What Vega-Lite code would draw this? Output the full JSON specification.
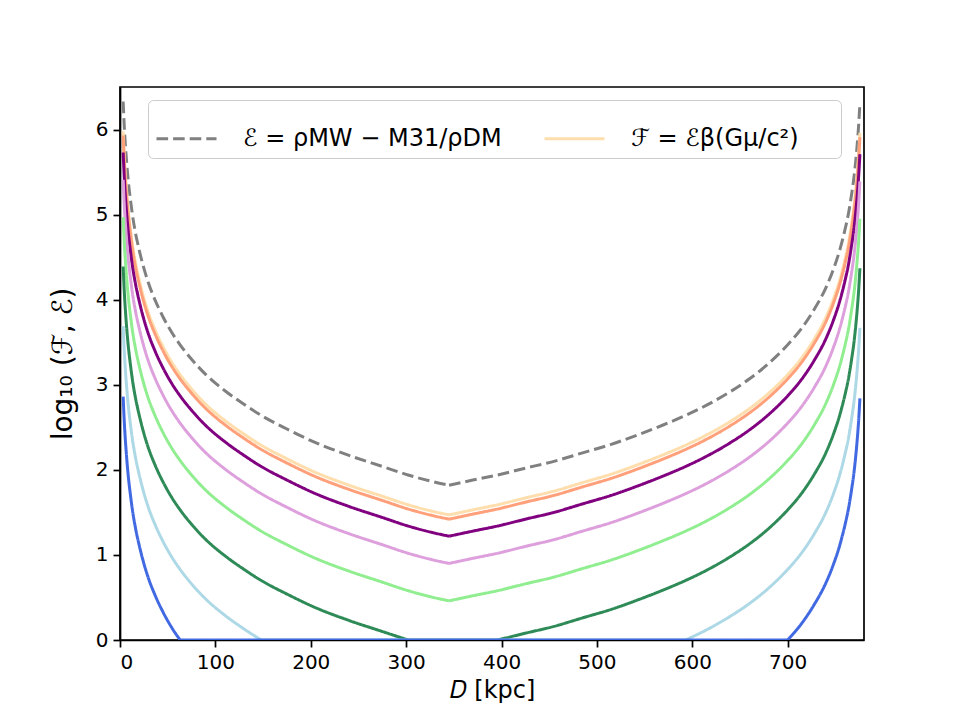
{
"$schema": "https://vega.github.io/schema/vega-lite/v6.json",
"width": 744, "height": 553,
"autosize": {"type": "none"},
"padding": {"left": 120, "top": 87, "right": 96, "bottom": 80},
"background": "white",
"config": {
  "view": {"stroke": "black", "strokeWidth": 1.7},
  "font": "DejaVu Sans",
  "axis": {"grid": false, "domainColor": "black", "domainWidth": 1.7, "tickColor": "black", "tickWidth": 1.7, "tickSize": 7, "labelColor": "black", "labelFont": "DejaVu Sans", "labelFontSize": 20, "labelPadding": 5, "titleFont": "DejaVu Sans", "titleFontWeight": "normal", "titleColor": "black"}
},
"data": {"values": [
{"s":"a","D":3.33,"v":6.33},{"s":"a","D":4,"v":6.15},{"s":"a","D":5,"v":5.93},{"s":"a","D":6,"v":5.76},{"s":"a","D":7.5,"v":5.54},{"s":"a","D":9,"v":5.36},{"s":"a","D":11,"v":5.17},{"s":"a","D":13,"v":5.00},{"s":"a","D":16,"v":4.80},{"s":"a","D":20,"v":4.59},{"s":"a","D":25,"v":4.37},{"s":"a","D":30,"v":4.19},{"s":"a","D":37,"v":3.99},{"s":"a","D":45,"v":3.80},{"s":"a","D":54,"v":3.62},{"s":"a","D":63,"v":3.47},{"s":"a","D":75,"v":3.30},{"s":"a","D":90,"v":3.12},{"s":"a","D":110,"v":2.93},{"s":"a","D":130,"v":2.77},{"s":"a","D":148,"v":2.64},{"s":"a","D":175,"v":2.48},{"s":"a","D":205,"v":2.32},{"s":"a","D":240,"v":2.17},{"s":"a","D":275,"v":2.04},{"s":"a","D":302,"v":1.94},{"s":"a","D":325,"v":1.87},{"s":"a","D":345,"v":1.82},
{"s":"a","p":2,"D":345,"v":1.82},{"s":"a","p":2,"D":370,"v":1.88},{"s":"a","p":2,"D":396,"v":1.94},{"s":"a","p":2,"D":425,"v":2.02},{"s":"a","p":2,"D":455,"v":2.10},{"s":"a","p":2,"D":485,"v":2.20},{"s":"a","p":2,"D":515,"v":2.30},{"s":"a","p":2,"D":545,"v":2.42},{"s":"a","p":2,"D":570,"v":2.53},{"s":"a","p":2,"D":593,"v":2.64},{"s":"a","p":2,"D":615,"v":2.76},{"s":"a","p":2,"D":640,"v":2.92},{"s":"a","p":2,"D":660,"v":3.07},{"s":"a","p":2,"D":680,"v":3.25},{"s":"a","p":2,"D":700,"v":3.47},{"s":"a","p":2,"D":715,"v":3.67},{"s":"a","p":2,"D":728,"v":3.89},{"s":"a","p":2,"D":740,"v":4.14},{"s":"a","p":2,"D":748,"v":4.36},{"s":"a","p":2,"D":755,"v":4.60},{"s":"a","p":2,"D":760,"v":4.82},{"s":"a","p":2,"D":764,"v":5.03},{"s":"a","p":2,"D":767,"v":5.24},{"s":"a","p":2,"D":769.5,"v":5.44},{"s":"a","p":2,"D":771.5,"v":5.65},{"s":"a","p":2,"D":773,"v":5.84},{"s":"a","p":2,"D":774.5,"v":6.07},{"s":"a","p":2,"D":775.7,"v":6.31},
{"s":"b","D":3.33,"v":5.98},{"s":"b","D":4,"v":5.80},{"s":"b","D":5,"v":5.58},{"s":"b","D":6,"v":5.41},{"s":"b","D":7.5,"v":5.19},{"s":"b","D":9,"v":5.01},{"s":"b","D":11,"v":4.82},{"s":"b","D":13,"v":4.65},{"s":"b","D":16,"v":4.45},{"s":"b","D":20,"v":4.24},{"s":"b","D":25,"v":4.02},{"s":"b","D":30,"v":3.84},{"s":"b","D":37,"v":3.64},{"s":"b","D":45,"v":3.45},{"s":"b","D":54,"v":3.27},{"s":"b","D":63,"v":3.12},{"s":"b","D":75,"v":2.95},{"s":"b","D":90,"v":2.77},{"s":"b","D":110,"v":2.58},{"s":"b","D":130,"v":2.42},{"s":"b","D":148,"v":2.29},{"s":"b","D":175,"v":2.13},{"s":"b","D":205,"v":1.97},{"s":"b","D":240,"v":1.82},{"s":"b","D":275,"v":1.69},{"s":"b","D":302,"v":1.59},{"s":"b","D":325,"v":1.52},{"s":"b","D":345,"v":1.47},
{"s":"b","p":2,"D":345,"v":1.47},{"s":"b","p":2,"D":370,"v":1.53},{"s":"b","p":2,"D":396,"v":1.59},{"s":"b","p":2,"D":425,"v":1.67},{"s":"b","p":2,"D":455,"v":1.75},{"s":"b","p":2,"D":485,"v":1.85},{"s":"b","p":2,"D":515,"v":1.95},{"s":"b","p":2,"D":545,"v":2.07},{"s":"b","p":2,"D":570,"v":2.18},{"s":"b","p":2,"D":593,"v":2.29},{"s":"b","p":2,"D":615,"v":2.41},{"s":"b","p":2,"D":640,"v":2.57},{"s":"b","p":2,"D":660,"v":2.72},{"s":"b","p":2,"D":680,"v":2.90},{"s":"b","p":2,"D":700,"v":3.12},{"s":"b","p":2,"D":715,"v":3.32},{"s":"b","p":2,"D":728,"v":3.54},{"s":"b","p":2,"D":740,"v":3.79},{"s":"b","p":2,"D":748,"v":4.01},{"s":"b","p":2,"D":755,"v":4.25},{"s":"b","p":2,"D":760,"v":4.47},{"s":"b","p":2,"D":764,"v":4.68},{"s":"b","p":2,"D":767,"v":4.89},{"s":"b","p":2,"D":769.5,"v":5.09},{"s":"b","p":2,"D":771.5,"v":5.30},{"s":"b","p":2,"D":773,"v":5.49},{"s":"b","p":2,"D":774.5,"v":5.72},{"s":"b","p":2,"D":775.7,"v":5.96},
{"s":"c","D":3.33,"v":5.93},{"s":"c","D":4,"v":5.75},{"s":"c","D":5,"v":5.53},{"s":"c","D":6,"v":5.36},{"s":"c","D":7.5,"v":5.14},{"s":"c","D":9,"v":4.96},{"s":"c","D":11,"v":4.77},{"s":"c","D":13,"v":4.60},{"s":"c","D":16,"v":4.40},{"s":"c","D":20,"v":4.19},{"s":"c","D":25,"v":3.97},{"s":"c","D":30,"v":3.79},{"s":"c","D":37,"v":3.59},{"s":"c","D":45,"v":3.40},{"s":"c","D":54,"v":3.22},{"s":"c","D":63,"v":3.07},{"s":"c","D":75,"v":2.90},{"s":"c","D":90,"v":2.72},{"s":"c","D":110,"v":2.53},{"s":"c","D":130,"v":2.37},{"s":"c","D":148,"v":2.24},{"s":"c","D":175,"v":2.08},{"s":"c","D":205,"v":1.92},{"s":"c","D":240,"v":1.77},{"s":"c","D":275,"v":1.64},{"s":"c","D":302,"v":1.54},{"s":"c","D":325,"v":1.47},{"s":"c","D":345,"v":1.42},
{"s":"c","p":2,"D":345,"v":1.42},{"s":"c","p":2,"D":370,"v":1.48},{"s":"c","p":2,"D":396,"v":1.54},{"s":"c","p":2,"D":425,"v":1.62},{"s":"c","p":2,"D":455,"v":1.70},{"s":"c","p":2,"D":485,"v":1.80},{"s":"c","p":2,"D":515,"v":1.90},{"s":"c","p":2,"D":545,"v":2.02},{"s":"c","p":2,"D":570,"v":2.13},{"s":"c","p":2,"D":593,"v":2.24},{"s":"c","p":2,"D":615,"v":2.36},{"s":"c","p":2,"D":640,"v":2.52},{"s":"c","p":2,"D":660,"v":2.67},{"s":"c","p":2,"D":680,"v":2.85},{"s":"c","p":2,"D":700,"v":3.07},{"s":"c","p":2,"D":715,"v":3.27},{"s":"c","p":2,"D":728,"v":3.49},{"s":"c","p":2,"D":740,"v":3.74},{"s":"c","p":2,"D":748,"v":3.96},{"s":"c","p":2,"D":755,"v":4.20},{"s":"c","p":2,"D":760,"v":4.42},{"s":"c","p":2,"D":764,"v":4.63},{"s":"c","p":2,"D":767,"v":4.84},{"s":"c","p":2,"D":769.5,"v":5.04},{"s":"c","p":2,"D":771.5,"v":5.25},{"s":"c","p":2,"D":773,"v":5.44},{"s":"c","p":2,"D":774.5,"v":5.67},{"s":"c","p":2,"D":775.7,"v":5.91},
{"s":"d","D":3.33,"v":5.73},{"s":"d","D":4,"v":5.55},{"s":"d","D":5,"v":5.33},{"s":"d","D":6,"v":5.16},{"s":"d","D":7.5,"v":4.94},{"s":"d","D":9,"v":4.76},{"s":"d","D":11,"v":4.57},{"s":"d","D":13,"v":4.40},{"s":"d","D":16,"v":4.20},{"s":"d","D":20,"v":3.99},{"s":"d","D":25,"v":3.77},{"s":"d","D":30,"v":3.59},{"s":"d","D":37,"v":3.39},{"s":"d","D":45,"v":3.20},{"s":"d","D":54,"v":3.02},{"s":"d","D":63,"v":2.87},{"s":"d","D":75,"v":2.70},{"s":"d","D":90,"v":2.52},{"s":"d","D":110,"v":2.33},{"s":"d","D":130,"v":2.17},{"s":"d","D":148,"v":2.04},{"s":"d","D":175,"v":1.88},{"s":"d","D":205,"v":1.72},{"s":"d","D":240,"v":1.57},{"s":"d","D":275,"v":1.44},{"s":"d","D":302,"v":1.34},{"s":"d","D":325,"v":1.27},{"s":"d","D":345,"v":1.22},
{"s":"d","p":2,"D":345,"v":1.22},{"s":"d","p":2,"D":370,"v":1.28},{"s":"d","p":2,"D":396,"v":1.34},{"s":"d","p":2,"D":425,"v":1.42},{"s":"d","p":2,"D":455,"v":1.50},{"s":"d","p":2,"D":485,"v":1.60},{"s":"d","p":2,"D":515,"v":1.70},{"s":"d","p":2,"D":545,"v":1.82},{"s":"d","p":2,"D":570,"v":1.93},{"s":"d","p":2,"D":593,"v":2.04},{"s":"d","p":2,"D":615,"v":2.16},{"s":"d","p":2,"D":640,"v":2.32},{"s":"d","p":2,"D":660,"v":2.47},{"s":"d","p":2,"D":680,"v":2.65},{"s":"d","p":2,"D":700,"v":2.87},{"s":"d","p":2,"D":715,"v":3.07},{"s":"d","p":2,"D":728,"v":3.29},{"s":"d","p":2,"D":740,"v":3.54},{"s":"d","p":2,"D":748,"v":3.76},{"s":"d","p":2,"D":755,"v":4.00},{"s":"d","p":2,"D":760,"v":4.22},{"s":"d","p":2,"D":764,"v":4.43},{"s":"d","p":2,"D":767,"v":4.64},{"s":"d","p":2,"D":769.5,"v":4.84},{"s":"d","p":2,"D":771.5,"v":5.05},{"s":"d","p":2,"D":773,"v":5.24},{"s":"d","p":2,"D":774.5,"v":5.47},{"s":"d","p":2,"D":775.7,"v":5.71},
{"s":"e","D":3.33,"v":5.41},{"s":"e","D":4,"v":5.23},{"s":"e","D":5,"v":5.01},{"s":"e","D":6,"v":4.84},{"s":"e","D":7.5,"v":4.62},{"s":"e","D":9,"v":4.44},{"s":"e","D":11,"v":4.25},{"s":"e","D":13,"v":4.08},{"s":"e","D":16,"v":3.88},{"s":"e","D":20,"v":3.67},{"s":"e","D":25,"v":3.45},{"s":"e","D":30,"v":3.27},{"s":"e","D":37,"v":3.07},{"s":"e","D":45,"v":2.88},{"s":"e","D":54,"v":2.70},{"s":"e","D":63,"v":2.55},{"s":"e","D":75,"v":2.38},{"s":"e","D":90,"v":2.20},{"s":"e","D":110,"v":2.01},{"s":"e","D":130,"v":1.85},{"s":"e","D":148,"v":1.72},{"s":"e","D":175,"v":1.56},{"s":"e","D":205,"v":1.40},{"s":"e","D":240,"v":1.25},{"s":"e","D":275,"v":1.12},{"s":"e","D":302,"v":1.02},{"s":"e","D":325,"v":0.95},{"s":"e","D":345,"v":0.90},
{"s":"e","p":2,"D":345,"v":0.90},{"s":"e","p":2,"D":370,"v":0.96},{"s":"e","p":2,"D":396,"v":1.02},{"s":"e","p":2,"D":425,"v":1.10},{"s":"e","p":2,"D":455,"v":1.18},{"s":"e","p":2,"D":485,"v":1.28},{"s":"e","p":2,"D":515,"v":1.38},{"s":"e","p":2,"D":545,"v":1.50},{"s":"e","p":2,"D":570,"v":1.61},{"s":"e","p":2,"D":593,"v":1.72},{"s":"e","p":2,"D":615,"v":1.84},{"s":"e","p":2,"D":640,"v":2.00},{"s":"e","p":2,"D":660,"v":2.15},{"s":"e","p":2,"D":680,"v":2.33},{"s":"e","p":2,"D":700,"v":2.55},{"s":"e","p":2,"D":715,"v":2.75},{"s":"e","p":2,"D":728,"v":2.97},{"s":"e","p":2,"D":740,"v":3.22},{"s":"e","p":2,"D":748,"v":3.44},{"s":"e","p":2,"D":755,"v":3.68},{"s":"e","p":2,"D":760,"v":3.90},{"s":"e","p":2,"D":764,"v":4.11},{"s":"e","p":2,"D":767,"v":4.32},{"s":"e","p":2,"D":769.5,"v":4.52},{"s":"e","p":2,"D":771.5,"v":4.73},{"s":"e","p":2,"D":773,"v":4.92},{"s":"e","p":2,"D":774.5,"v":5.15},{"s":"e","p":2,"D":775.7,"v":5.39},
{"s":"f","D":3.33,"v":4.97},{"s":"f","D":4,"v":4.79},{"s":"f","D":5,"v":4.57},{"s":"f","D":6,"v":4.40},{"s":"f","D":7.5,"v":4.18},{"s":"f","D":9,"v":4.00},{"s":"f","D":11,"v":3.81},{"s":"f","D":13,"v":3.64},{"s":"f","D":16,"v":3.44},{"s":"f","D":20,"v":3.23},{"s":"f","D":25,"v":3.01},{"s":"f","D":30,"v":2.83},{"s":"f","D":37,"v":2.63},{"s":"f","D":45,"v":2.44},{"s":"f","D":54,"v":2.26},{"s":"f","D":63,"v":2.11},{"s":"f","D":75,"v":1.94},{"s":"f","D":90,"v":1.76},{"s":"f","D":110,"v":1.57},{"s":"f","D":130,"v":1.41},{"s":"f","D":148,"v":1.28},{"s":"f","D":175,"v":1.12},{"s":"f","D":205,"v":0.96},{"s":"f","D":240,"v":0.81},{"s":"f","D":275,"v":0.68},{"s":"f","D":302,"v":0.58},{"s":"f","D":325,"v":0.51},{"s":"f","D":345,"v":0.46},
{"s":"f","p":2,"D":345,"v":0.46},{"s":"f","p":2,"D":370,"v":0.52},{"s":"f","p":2,"D":396,"v":0.58},{"s":"f","p":2,"D":425,"v":0.66},{"s":"f","p":2,"D":455,"v":0.74},{"s":"f","p":2,"D":485,"v":0.84},{"s":"f","p":2,"D":515,"v":0.94},{"s":"f","p":2,"D":545,"v":1.06},{"s":"f","p":2,"D":570,"v":1.17},{"s":"f","p":2,"D":593,"v":1.28},{"s":"f","p":2,"D":615,"v":1.40},{"s":"f","p":2,"D":640,"v":1.56},{"s":"f","p":2,"D":660,"v":1.71},{"s":"f","p":2,"D":680,"v":1.89},{"s":"f","p":2,"D":700,"v":2.11},{"s":"f","p":2,"D":715,"v":2.31},{"s":"f","p":2,"D":728,"v":2.53},{"s":"f","p":2,"D":740,"v":2.78},{"s":"f","p":2,"D":748,"v":3.00},{"s":"f","p":2,"D":755,"v":3.24},{"s":"f","p":2,"D":760,"v":3.46},{"s":"f","p":2,"D":764,"v":3.67},{"s":"f","p":2,"D":767,"v":3.88},{"s":"f","p":2,"D":769.5,"v":4.08},{"s":"f","p":2,"D":771.5,"v":4.29},{"s":"f","p":2,"D":773,"v":4.48},{"s":"f","p":2,"D":774.5,"v":4.71},{"s":"f","p":2,"D":775.7,"v":4.95},
{"s":"g","D":3.33,"v":4.39},{"s":"g","D":4,"v":4.21},{"s":"g","D":5,"v":3.99},{"s":"g","D":6,"v":3.82},{"s":"g","D":7.5,"v":3.60},{"s":"g","D":9,"v":3.42},{"s":"g","D":11,"v":3.23},{"s":"g","D":13,"v":3.06},{"s":"g","D":16,"v":2.86},{"s":"g","D":20,"v":2.65},{"s":"g","D":25,"v":2.43},{"s":"g","D":30,"v":2.25},{"s":"g","D":37,"v":2.05},{"s":"g","D":45,"v":1.86},{"s":"g","D":54,"v":1.68},{"s":"g","D":63,"v":1.53},{"s":"g","D":75,"v":1.36},{"s":"g","D":90,"v":1.18},{"s":"g","D":110,"v":0.99},{"s":"g","D":130,"v":0.83},{"s":"g","D":148,"v":0.70},{"s":"g","D":175,"v":0.54},{"s":"g","D":205,"v":0.38},{"s":"g","D":240,"v":0.23},{"s":"g","D":275,"v":0.10},{"s":"g","D":302,"v":0},
{"s":"g","p":1,"D":302,"v":0},{"s":"g","p":1,"D":396,"v":0},
{"s":"g","p":2,"D":396,"v":0},{"s":"g","p":2,"D":425,"v":0.08},{"s":"g","p":2,"D":455,"v":0.16},{"s":"g","p":2,"D":485,"v":0.26},{"s":"g","p":2,"D":515,"v":0.36},{"s":"g","p":2,"D":545,"v":0.48},{"s":"g","p":2,"D":570,"v":0.59},{"s":"g","p":2,"D":593,"v":0.70},{"s":"g","p":2,"D":615,"v":0.82},{"s":"g","p":2,"D":640,"v":0.98},{"s":"g","p":2,"D":660,"v":1.13},{"s":"g","p":2,"D":680,"v":1.31},{"s":"g","p":2,"D":700,"v":1.53},{"s":"g","p":2,"D":715,"v":1.73},{"s":"g","p":2,"D":728,"v":1.95},{"s":"g","p":2,"D":740,"v":2.20},{"s":"g","p":2,"D":748,"v":2.42},{"s":"g","p":2,"D":755,"v":2.66},{"s":"g","p":2,"D":760,"v":2.88},{"s":"g","p":2,"D":764,"v":3.09},{"s":"g","p":2,"D":767,"v":3.30},{"s":"g","p":2,"D":769.5,"v":3.50},{"s":"g","p":2,"D":771.5,"v":3.71},{"s":"g","p":2,"D":773,"v":3.90},{"s":"g","p":2,"D":774.5,"v":4.13},{"s":"g","p":2,"D":775.7,"v":4.37},
{"s":"h","D":3.33,"v":3.69},{"s":"h","D":4,"v":3.51},{"s":"h","D":5,"v":3.29},{"s":"h","D":6,"v":3.12},{"s":"h","D":7.5,"v":2.90},{"s":"h","D":9,"v":2.72},{"s":"h","D":11,"v":2.53},{"s":"h","D":13,"v":2.36},{"s":"h","D":16,"v":2.16},{"s":"h","D":20,"v":1.95},{"s":"h","D":25,"v":1.73},{"s":"h","D":30,"v":1.55},{"s":"h","D":37,"v":1.35},{"s":"h","D":45,"v":1.16},{"s":"h","D":54,"v":0.98},{"s":"h","D":63,"v":0.83},{"s":"h","D":75,"v":0.66},{"s":"h","D":90,"v":0.48},{"s":"h","D":110,"v":0.29},{"s":"h","D":130,"v":0.13},{"s":"h","D":148,"v":0},
{"s":"h","p":1,"D":148,"v":0},{"s":"h","p":1,"D":593,"v":0},
{"s":"h","p":2,"D":593,"v":0},{"s":"h","p":2,"D":615,"v":0.12},{"s":"h","p":2,"D":640,"v":0.28},{"s":"h","p":2,"D":660,"v":0.43},{"s":"h","p":2,"D":680,"v":0.61},{"s":"h","p":2,"D":700,"v":0.83},{"s":"h","p":2,"D":715,"v":1.03},{"s":"h","p":2,"D":728,"v":1.25},{"s":"h","p":2,"D":740,"v":1.50},{"s":"h","p":2,"D":748,"v":1.72},{"s":"h","p":2,"D":755,"v":1.96},{"s":"h","p":2,"D":760,"v":2.18},{"s":"h","p":2,"D":764,"v":2.39},{"s":"h","p":2,"D":767,"v":2.60},{"s":"h","p":2,"D":769.5,"v":2.80},{"s":"h","p":2,"D":771.5,"v":3.01},{"s":"h","p":2,"D":773,"v":3.20},{"s":"h","p":2,"D":774.5,"v":3.43},{"s":"h","p":2,"D":775.7,"v":3.67},
{"s":"i","D":3.33,"v":2.86},{"s":"i","D":4,"v":2.68},{"s":"i","D":5,"v":2.46},{"s":"i","D":6,"v":2.29},{"s":"i","D":7.5,"v":2.07},{"s":"i","D":9,"v":1.89},{"s":"i","D":11,"v":1.70},{"s":"i","D":13,"v":1.53},{"s":"i","D":16,"v":1.33},{"s":"i","D":20,"v":1.12},{"s":"i","D":25,"v":0.90},{"s":"i","D":30,"v":0.72},{"s":"i","D":37,"v":0.52},{"s":"i","D":45,"v":0.33},{"s":"i","D":54,"v":0.15},{"s":"i","D":63,"v":0},
{"s":"i","p":1,"D":63,"v":0},{"s":"i","p":1,"D":700,"v":0},
{"s":"i","p":2,"D":700,"v":0},{"s":"i","p":2,"D":715,"v":0.20},{"s":"i","p":2,"D":728,"v":0.42},{"s":"i","p":2,"D":740,"v":0.67},{"s":"i","p":2,"D":748,"v":0.89},{"s":"i","p":2,"D":755,"v":1.13},{"s":"i","p":2,"D":760,"v":1.35},{"s":"i","p":2,"D":764,"v":1.56},{"s":"i","p":2,"D":767,"v":1.77},{"s":"i","p":2,"D":769.5,"v":1.97},{"s":"i","p":2,"D":771.5,"v":2.18},{"s":"i","p":2,"D":773,"v":2.37},{"s":"i","p":2,"D":774.5,"v":2.60},{"s":"i","p":2,"D":775.7,"v":2.84}
]},
"mark": {"type": "line", "clip": true, "strokeWidth": 3, "interpolate": "monotone"},
"encoding": {
  "x": {"field": "D", "type": "quantitative", "scale": {"domain": [0, 780], "nice": false, "zero": false},
        "axis": {"values": [0,100,200,300,400,500,600,700], "title": "𝐷 [kpc]", "titleFontSize": 24, "titlePadding": 6}},
  "y": {"field": "v", "type": "quantitative", "scale": {"domain": [0, 6.5], "nice": false},
        "axis": {"values": [0,1,2,3,4,5,6], "title": "log₁₀ (ℱ, ℰ)", "titleFontSize": 28, "titlePadding": 18}},
  "detail": {"field": "p", "type": "nominal"},
  "color": {"field": "s", "type": "nominal",
    "scale": {"domain": ["a","b","c","d","e","f","g","h","i"], "range": ["#808080","#FFDEAD","#FFA07A","#800080","#DDA0DD","#90EE90","#2E8B57","#ADD8E6","#4169E1"]},
    "legend": {"values": ["a","b"], "title": null, "orient": "none", "legendX": 28, "legendY": 13, "direction": "horizontal", "columnPadding": 36, "padding": 7, "labelFontSize": 24, "labelLimit": 600, "labelFont": "DejaVu Sans", "labelColor": "black", "symbolType": "stroke", "symbolSize": 3600, "symbolStrokeWidth": 3, "labelOffset": 25, "strokeColor": "#cccccc", "cornerRadius": 5, "fillColor": "white",
      "labelExpr": "datum.label == 'a' ? 'ℰ = ρMW − M31/ρDM' : 'ℱ = ℰβ(Gμ/c²)\u2800\u2800'"}},
  "strokeDash": {"field": "s", "type": "nominal",
    "scale": {"domain": ["a","b","c","d","e","f","g","h","i"], "range": [[11.6,5],[1,0],[1,0],[1,0],[1,0],[1,0],[1,0],[1,0],[1,0]]},
    "legend": {"values": ["a","b"], "title": null, "orient": "none", "legendX": 28, "legendY": 13, "direction": "horizontal", "columnPadding": 36, "padding": 7, "labelFontSize": 24, "labelLimit": 600, "labelFont": "DejaVu Sans", "labelColor": "black", "symbolType": "stroke", "symbolSize": 3600, "symbolStrokeWidth": 3, "labelOffset": 25, "strokeColor": "#cccccc", "cornerRadius": 5, "fillColor": "white",
      "labelExpr": "datum.label == 'a' ? 'ℰ = ρMW − M31/ρDM' : 'ℱ = ℰβ(Gμ/c²)\u2800\u2800'"}}
}
}
